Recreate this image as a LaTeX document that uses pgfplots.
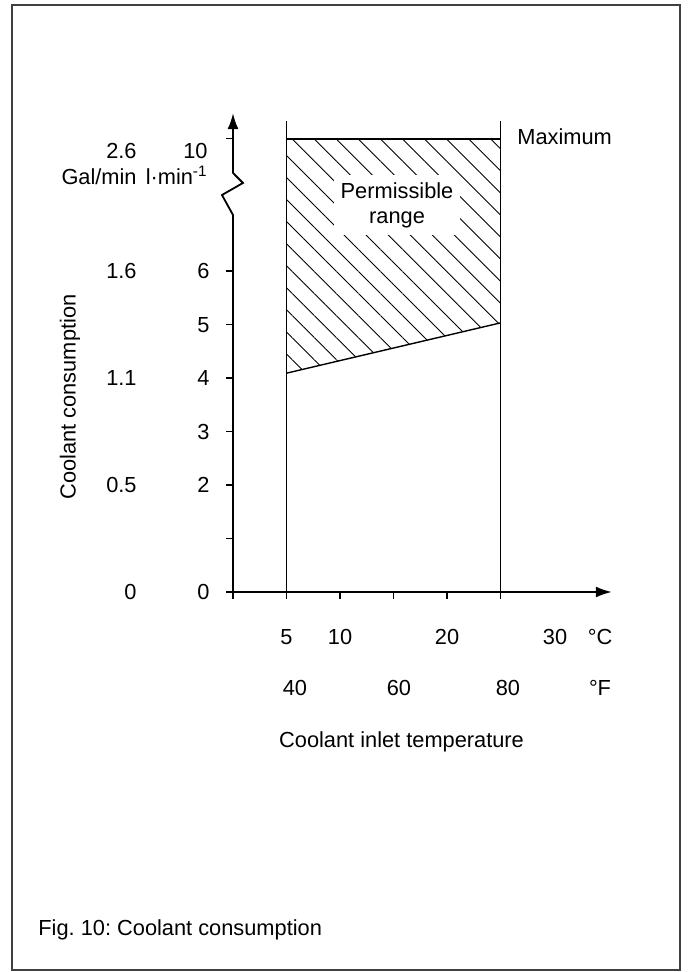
\documentclass[border=0pt]{standalone}
\usepackage{fontspec}
\setmainfont{Liberation Sans}
\usepackage{pgfplots}
\pgfplotsset{compat=1.18}
\usetikzlibrary{patterns.meta,arrows.meta}
\tikzset{lbl/.style={anchor=base east, inner sep=0pt},
         xl/.style={anchor=base, inner sep=0pt}}
\begin{document}
\frenchspacing
\fontsize{10.9}{12.5}\selectfont
\begin{tikzpicture}
\useasboundingbox (0pt,0pt) rectangle (344pt,486pt);
\draw[line width=0.8pt, black!75] (6pt,1pt) rectangle (340pt,483.5pt);
\node[anchor=base west, inner sep=0pt] at (19pt,18.1pt) {Fig. 10: Coolant consumption};
\begin{axis}[
  at={(116.5pt,190pt)}, anchor=south west,
  x=5.35pt, y=26.75pt,
  xmin=0, xmax=35.4, ymin=0, ymax=8.95,
  axis x line=bottom, axis y line=left,
  x axis line style={-{Latex[length=8pt,width=5.5pt]}, line width=0.9pt},
  y axis line style={draw=none},
  xtick={0,5,10,15,20,25}, xticklabels={},
  ytick={0,1,2,3,4,5,6,8.47}, yticklabels={},
  tick align=outside, major tick length=3.5pt,
  tick style={line width=0.6pt, black},
  clip=false,
]
% permissible range (hatched)
\addplot[draw=none, pattern={Lines[angle=-45,distance=7.8pt,line width=0.45pt]}]
  coordinates {(5,4.09) (25,5.03) (25,8.47) (5,8.47)} -- cycle;
\node[fill=white, inner sep=3.5pt, align=center] at (axis cs:15.33,7.234)
  {Permissible\\range};
% boundaries
\addplot[line width=0.7pt] coordinates {(5,4.09) (25,5.03)};
\addplot[line width=0.7pt] coordinates {(5,8.47) (25,8.47)};
\addplot[line width=0.7pt] coordinates {(5,0) (5,8.8)};
\addplot[line width=0.7pt] coordinates {(25,0) (25,8.8)};
% y axis with break
\draw[line width=0.9pt, -{Latex[length=8pt,width=5.5pt]}]
  (axis cs:0,0) -- (axis cs:0,7.047) -- (axis cs:-1.03,7.42)
  -- (axis cs:0.93,7.645) -- (axis cs:0,7.832) -- (axis cs:0,8.95);
% inner y labels (l/min)
\node[lbl] at (axis cs:-2.15,-0.146) {0};
\node[lbl] at (axis cs:-2.15,1.854) {2};
\node[lbl] at (axis cs:-2.15,2.854) {3};
\node[lbl] at (axis cs:-2.15,3.854) {4};
\node[lbl] at (axis cs:-2.15,4.854) {5};
\node[lbl] at (axis cs:-2.15,5.854) {6};
\node[lbl] at (axis cs:-2.34,8.097) {10};
\node[lbl] at (axis cs:-2.34,7.611) {l·min\textsuperscript{-1}};
% outer y labels (Gal/min)
\node[lbl] at (axis cs:-8.97,8.097) {2.6};
\node[lbl] at (axis cs:-8.97,7.611) {Gal/min};
\node[lbl] at (axis cs:-8.97,5.854) {1.6};
\node[lbl] at (axis cs:-8.97,3.854) {1.1};
\node[lbl] at (axis cs:-8.97,1.854) {0.5};
\node[lbl] at (axis cs:-8.97,-0.146) {0};
\node[rotate=90] at (axis cs:-15.23,3.645) {Coolant consumption};
% x labels
\node[xl] at (axis cs:5,-0.987) {5};
\node[xl] at (axis cs:10,-0.987) {10};
\node[xl] at (axis cs:20,-0.987) {20};
\node[xl] at (axis cs:30.1,-0.987) {30};
\node[xl] at (axis cs:34.3,-0.987) {°C};
\node[xl] at (axis cs:5.79,-1.94) {40};
\node[xl] at (axis cs:15.51,-1.94) {60};
\node[xl] at (axis cs:25.7,-1.94) {80};
\node[xl] at (axis cs:34.3,-1.94) {°F};
\node[xl] at (axis cs:15.75,-2.90) {Coolant inlet temperature};
\node[anchor=base west, inner sep=0pt] at (axis cs:26.54,8.359) {Maximum};
\end{axis}
\end{tikzpicture}
\end{document}
